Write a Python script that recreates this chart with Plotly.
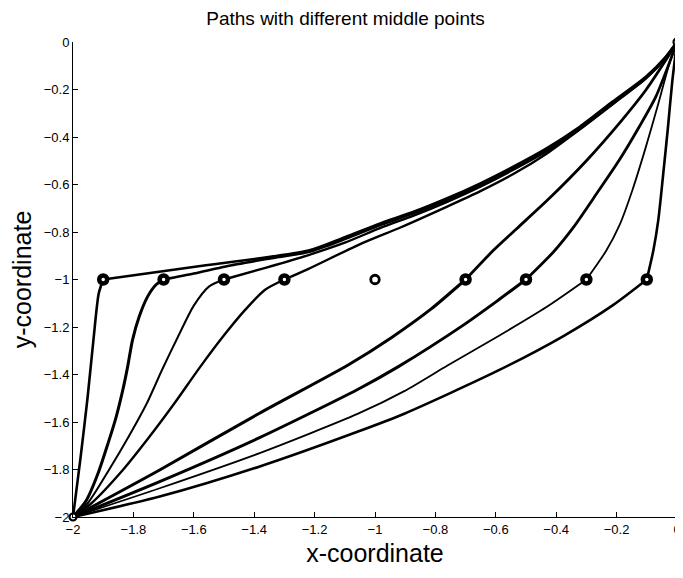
import plotly.graph_objects as go

# ---- data ----
mid_x = [-1.9, -1.7, -1.5, -1.3, -0.7, -0.5, -0.3, -0.1]
mid_y = [-1, -1, -1, -1, -1, -1, -1, -1]
empty_mid_x = [-1.0]
empty_mid_y = [-1.0]
end_x = [-2, 0]
end_y = [-2, 0]

# path through (-1.9,-1)
a_lo_x = [-2, -1.975, -1.952, -1.932, -1.915, -1.9]
a_lo_y = [-2, -1.75, -1.5, -1.25, -1.06, -1]
a_up_x = [-1.9, -1.56, -1.22, -1.1, -0.98, -0.87, -0.761, -0.651, -0.542, -0.432, -0.322, -0.213, -0.103, -0.037, 0]
a_up_y = [-1, -0.94, -0.878, -0.822, -0.763, -0.714, -0.658, -0.595, -0.525, -0.448, -0.357, -0.251, -0.146, -0.062, 0]

# path through (-1.7,-1)
b_lo_x = [-2, -1.955, -1.917, -1.884, -1.857, -1.835, -1.819, -1.803, -1.781, -1.753, -1.726, -1.7]
b_lo_y = [-2, -1.928, -1.816, -1.69, -1.578, -1.465, -1.367, -1.255, -1.157, -1.072, -1.023, -1]
b_up_x = [-1.7, -1.6, -1.494, -1.35, -1.22, -1.1, -0.98, -0.87, -0.761, -0.651, -0.542, -0.432, -0.322, -0.213, -0.103, -0.037, 0]
b_up_y = [-1, -0.975, -0.945, -0.912, -0.884, -0.83, -0.77, -0.72, -0.664, -0.601, -0.531, -0.454, -0.362, -0.256, -0.15, -0.064, 0]

# path through (-1.5,-1)
c_lo_x = [-2, -1.95, -1.88, -1.815, -1.755, -1.705, -1.652, -1.6, -1.55, -1.5]
c_lo_y = [-2, -1.94, -1.8, -1.66, -1.52, -1.38, -1.24, -1.11, -1.03, -1]
c_up_x = [-1.5, -1.36, -1.22, -1.1, -0.98, -0.87, -0.761, -0.651, -0.542, -0.432, -0.322, -0.213, -0.103, -0.037, 0]
c_up_y = [-1, -0.95, -0.897, -0.845, -0.782, -0.73, -0.673, -0.609, -0.538, -0.46, -0.367, -0.26, -0.153, -0.066, 0]

# path through (-1.3,-1)
d_lo_x = [-2, -1.939, -1.835, -1.747, -1.664, -1.58, -1.5, -1.43, -1.365, -1.3]
d_lo_y = [-2, -1.942, -1.802, -1.662, -1.521, -1.37, -1.235, -1.128, -1.044, -1]
d_up_x = [-1.3, -1.22, -1.056, -0.914, -0.761, -0.651, -0.542, -0.432, -0.322, -0.213, -0.103, -0.037, 0]
d_up_y = [-1, -0.955, -0.855, -0.78, -0.693, -0.628, -0.556, -0.47, -0.368, -0.262, -0.153, -0.066, 0]

# path through (-0.7,-1)
e_lo_x = [-2, -1.713, -1.384, -1.089, -0.946, -0.815, -0.7]
e_lo_y = [-2, -1.802, -1.564, -1.36, -1.245, -1.125, -1]
e_up_x = [-0.7, -0.607, -0.53, -0.42, -0.3, -0.185, -0.103, -0.037, 0]
e_up_y = [-1, -0.876, -0.785, -0.655, -0.5, -0.333, -0.202, -0.076, 0]

# path through (-0.5,-1)
f_lo_x = [-2, -1.713, -1.384, -1.056, -0.924, -0.705, -0.595, -0.5]
f_lo_y = [-2, -1.851, -1.667, -1.462, -1.368, -1.19, -1.09, -1]
f_up_x = [-0.5, -0.41, -0.34, -0.267, -0.191, -0.125, -0.07, -0.026, 0]
f_up_y = [-1, -0.885, -0.775, -0.64, -0.497, -0.357, -0.23, -0.09, 0]

# path through (-0.3,-1)
g_lo_x = [-2, -1.713, -1.384, -1.056, -0.903, -0.76, -0.595, -0.431, -0.3]
g_lo_y = [-2, -1.879, -1.732, -1.565, -1.47, -1.362, -1.241, -1.115, -1]
g_up_x = [-0.3, -0.235, -0.19, -0.148, -0.105, -0.062, -0.026, 0]
g_up_y = [-1, -0.88, -0.77, -0.625, -0.45, -0.26, -0.095, 0]

# path through (-0.1,-1)
h_lo_x = [-2, -1.713, -1.384, -1.056, -0.903, -0.595, -0.376, -0.212, -0.1]
h_lo_y = [-2, -1.914, -1.788, -1.64, -1.565, -1.385, -1.238, -1.108, -1]
h_up_x = [-0.1, -0.078, -0.062, -0.046, -0.03, -0.016, 0]
h_up_y = [-1, -0.876, -0.75, -0.56, -0.36, -0.17, 0]

x_ticks = [-2, -1.8, -1.6, -1.4, -1.2, -1, -0.8, -0.6, -0.4, -0.2, 0]
y_ticks = [0, -0.2, -0.4, -0.6, -0.8, -1, -1.2, -1.4, -1.6, -1.8, -2]

segments = [
    (a_lo_x, a_lo_y, 2.6), (a_up_x, a_up_y, 2.6),
    (b_lo_x, b_lo_y, 3.0), (b_up_x, b_up_y, 2.6),
    (c_lo_x, c_lo_y, 2.0), (c_up_x, c_up_y, 2.4),
    (d_lo_x, d_lo_y, 2.4), (d_up_x, d_up_y, 2.4),
    (e_lo_x, e_lo_y, 3.0), (e_up_x, e_up_y, 2.8),
    (f_lo_x, f_lo_y, 3.0), (f_up_x, f_up_y, 2.8),
    (g_lo_x, g_lo_y, 1.8), (g_up_x, g_up_y, 1.8),
    (h_lo_x, h_lo_y, 2.6), (h_up_x, h_up_y, 2.6),
]

fig = go.Figure()
for xs, ys, w in segments:
    fig.add_trace(go.Scatter(
        x=xs, y=ys, mode="lines",
        line=dict(color="black", width=w, shape="spline", smoothing=0.7),
        showlegend=False, hoverinfo="skip",
    ))

fig.add_trace(go.Scatter(
    x=mid_x, y=mid_y, mode="markers",
    marker=dict(symbol="circle", size=8, color="white",
                line=dict(color="black", width=4.5)),
    showlegend=False, cliponaxis=False,
))
fig.add_trace(go.Scatter(
    x=empty_mid_x, y=empty_mid_y, mode="markers",
    marker=dict(symbol="circle", size=8.5, color="white",
                line=dict(color="black", width=2.8)),
    showlegend=False, cliponaxis=False,
))
fig.add_trace(go.Scatter(
    x=end_x, y=end_y, mode="markers",
    marker=dict(symbol="circle", size=7, color="white",
                line=dict(color="black", width=2.2)),
    showlegend=False, cliponaxis=False,
))

font_family = "Liberation Sans, Arial, Helvetica, sans-serif"
fig.update_layout(
    width=675, height=570,
    margin=dict(l=65, r=6, t=34, b=61),
    paper_bgcolor="white", plot_bgcolor="white",
    font=dict(family=font_family, color="black", size=13),
    title=dict(text="Paths with different middle points",
               x=0.5, xanchor="center", y=0.982, yanchor="middle",
               font=dict(size=19, family=font_family, color="black")),
    xaxis=dict(
        range=[-2, 0], tickvals=x_ticks, ticks="inside", ticklen=5,
        tickcolor="black", showline=True, linecolor="black", linewidth=1,
        showgrid=False, zeroline=False, mirror=False, automargin=False,
        ticklabeloverflow="allow",
        tickfont=dict(size=13),
        title=dict(text="x-coordinate", font=dict(size=25), standoff=8),
    ),
    yaxis=dict(
        range=[-2, 0], tickvals=y_ticks, ticks="inside", ticklen=5,
        tickcolor="black", showline=True, linecolor="black", linewidth=1,
        showgrid=False, zeroline=False, mirror=False, automargin=False,
        tickfont=dict(size=13),
        title=dict(text="y-coordinate", font=dict(size=25), standoff=4),
    ),
)

fig.write_html("out.html")
